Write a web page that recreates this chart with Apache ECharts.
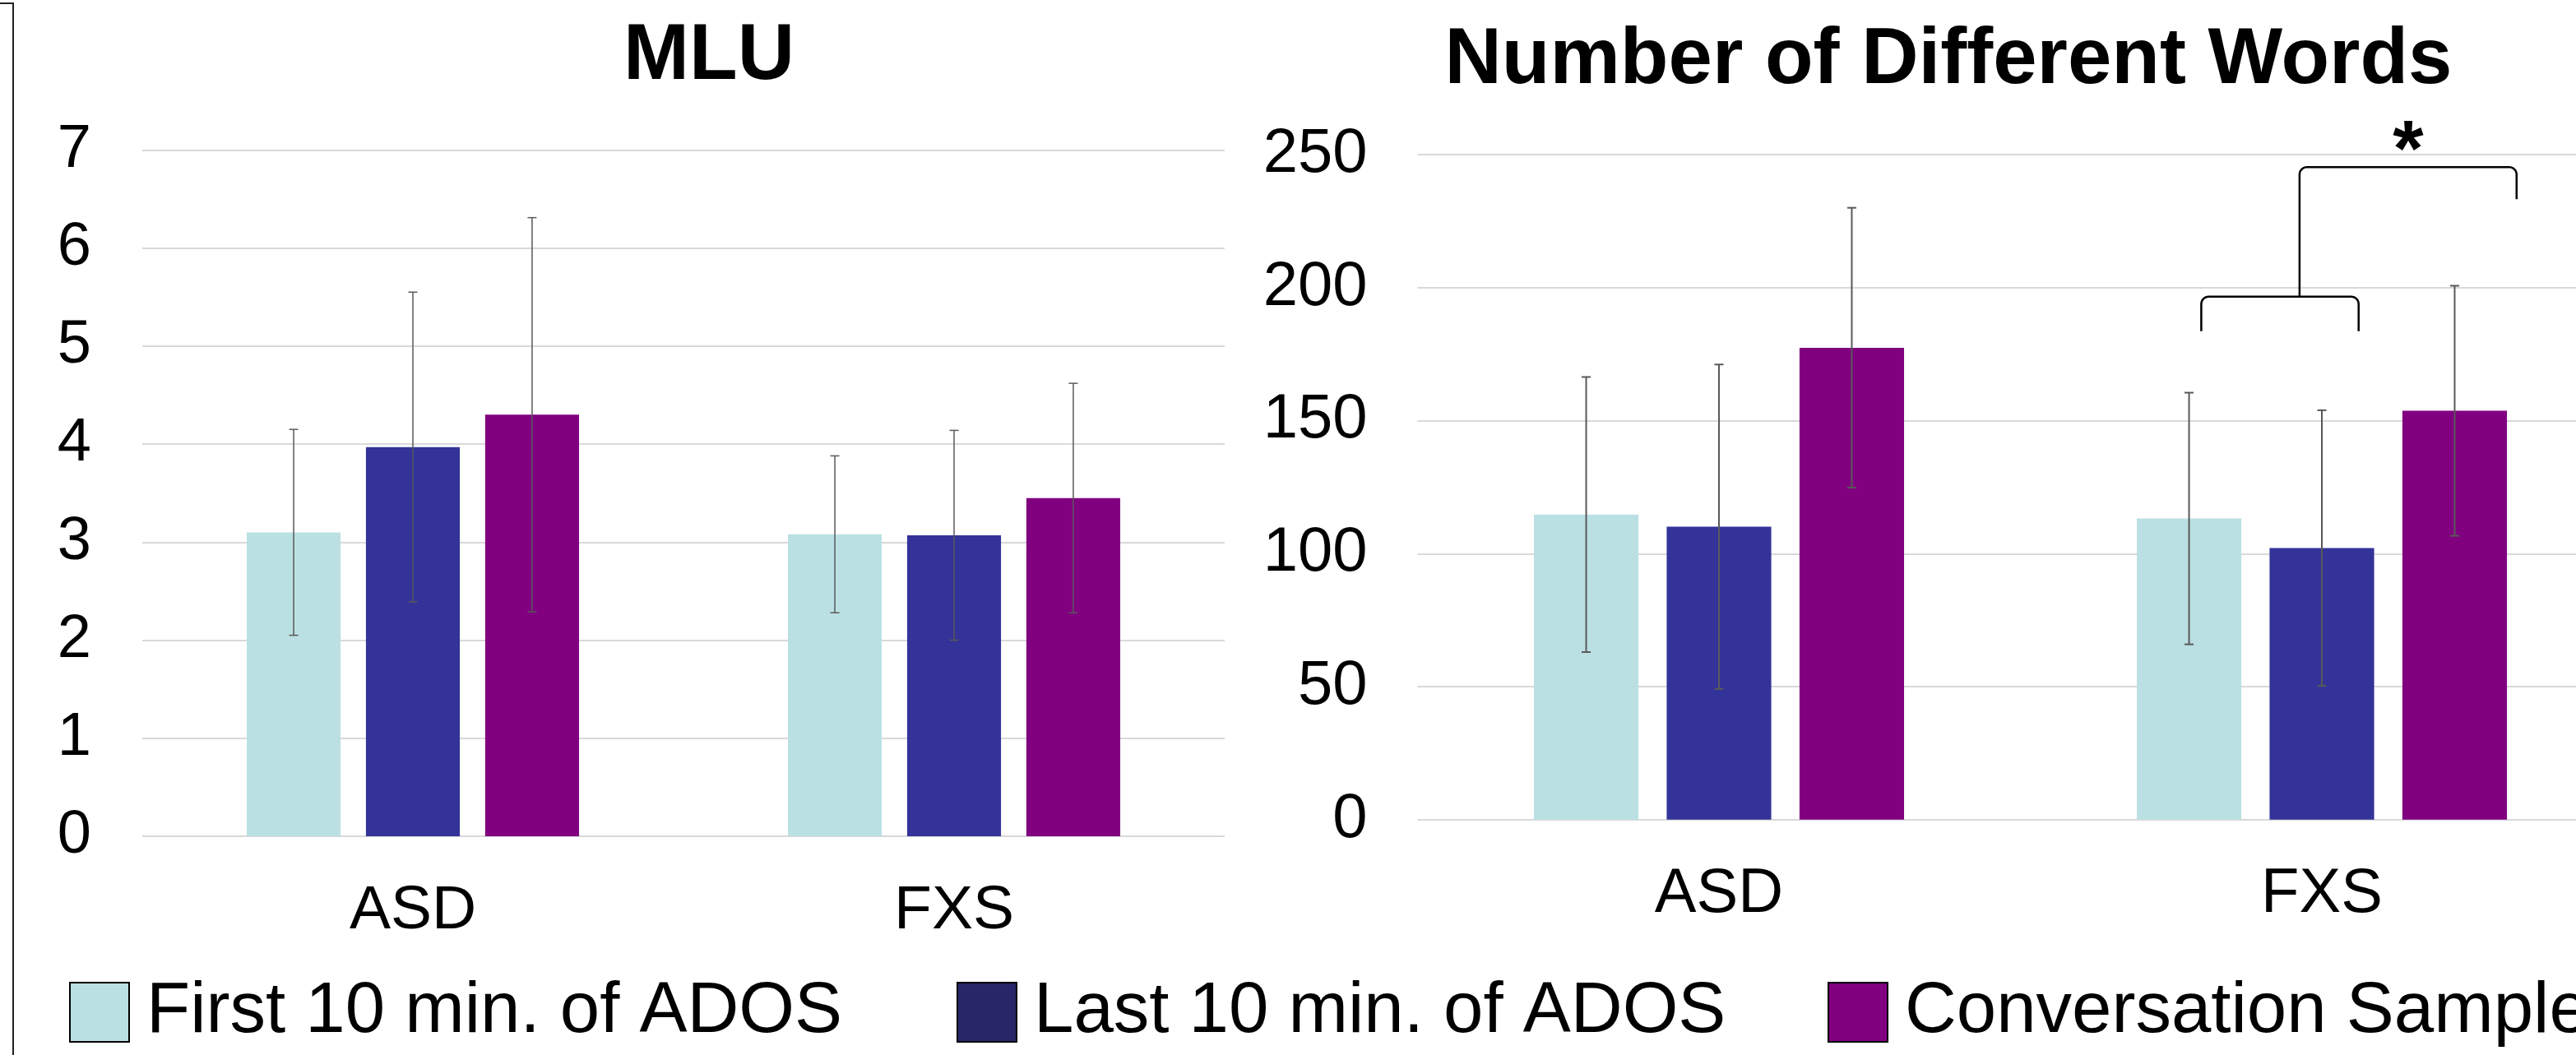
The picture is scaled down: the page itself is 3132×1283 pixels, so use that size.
<!DOCTYPE html>
<html>
<head>
<meta charset="utf-8">
<script src="https://cdn.jsdelivr.net/npm/echarts@6/dist/echarts.min.js"></script>
<style>html,body{margin:0;padding:0;background:#fff}#c{width:3132px;height:1283px}</style>
</head>
<body>
<div id="c"></div>
<script>
// ---- data ----
const categories = ['ASD', 'FXS'];
const seriesNames = ['First 10 min. of ADOS', 'Last 10 min. of ADOS', 'Conversation Sample'];
const chartTitles = ['MLU', 'Number of Different Words'];

const mluFirst = [3.10, 3.08];
const mluLast = [3.97, 3.07];
const mluConv = [4.30, 3.45];
const mluFirstSD = [1.05, 0.80];
const mluLastSD = [1.58, 1.07];
const mluConvSD = [2.01, 1.17];

const ndwFirst = [114.7, 113.2];
const ndwLast = [110.1, 102.1];
const ndwConv = [177.4, 153.7];
const ndwFirstSD = [51.7, 47.3];
const ndwLastSD = [61.0, 51.8];
const ndwConvSD = [52.6, 47.0];

const mluAxis = { min: 0, max: 7, interval: 1 };
const ndwAxis = { min: 0, max: 250, interval: 50 };

// significance annotation (FXS: first+last vs conversation)
const sigBracket = { category: 1, lowerTop: 196.6, lowerLeg: 183.6, lowerFrom: -0.2, lowerTo: 0.061,
  stem: -0.037, upperTop: 245.3, upperLeg: 233.2, upperTo: 0.323, star: 250.3, starX: 0.143, label: '*' };

// ---- styles ----
const colors = ['#BBE0E3', '#333399', '#800080'];
const legendColors = ['#BBE0E3', '#262669', '#800080'];
const FONT = 'Liberation Sans, Arial, sans-serif';
const BAR_GAP = 0.27, CAT_GAP = 0.386;

function errSeries(means, sds, k, axisIdx, lw) {
  return {
    type: 'custom', xAxisIndex: axisIdx, yAxisIndex: axisIdx, clip: false, silent: true, z: 5,
    data: means.map((m, i) => [i, m - sds[i], m + sds[i]]),
    encode: { x: 0, y: [1, 2] },
    renderItem: function (params, api) {
      const ci = api.value(0);
      const lo = api.coord([ci, api.value(1)]);
      const hi = api.coord([ci, api.value(2)]);
      const band = api.size([1, 0])[0];
      const w = band * (1 - CAT_GAP) / (3 + 2 * BAR_GAP);
      const x = lo[0] + w * (1 + BAR_GAP) * (k - 1);
      const cap = 5.5;
      const st = { stroke: '#595959', lineWidth: lw };
      return { type: 'group', children: [
        { type: 'line', shape: { x1: x, y1: lo[1], x2: x, y2: hi[1] }, style: st },
        { type: 'line', shape: { x1: x - cap, y1: lo[1], x2: x + cap, y2: lo[1] }, style: st },
        { type: 'line', shape: { x1: x - cap, y1: hi[1], x2: x + cap, y2: hi[1] }, style: st }
      ] };
    }
  };
}

function arc(cx, cy, r, a0, a1) {
  const pts = [];
  for (let i = 0; i <= 8; i++) {
    const a = a0 + (a1 - a0) * i / 8;
    pts.push([cx + r * Math.cos(a), cy + r * Math.sin(a)]);
  }
  return pts;
}

const bracketSeries = {
  type: 'custom', xAxisIndex: 1, yAxisIndex: 1, clip: false, silent: true, z: 6,
  data: [[sigBracket.category, sigBracket.lowerTop]],
  renderItem: function (params, api) {
    const b = sigBracket;
    const c = api.coord([b.category, 0])[0];
    const band = api.size([1, 0])[0];
    const Y = v => api.coord([b.category, v])[1];
    const r = 9;
    const xL = c + b.lowerFrom * band, xR = c + b.lowerTo * band;
    const xJ = c + b.stem * band, xU = c + b.upperTo * band;
    const yLT = Y(b.lowerTop), yLL = Y(b.lowerLeg), yUT = Y(b.upperTop), yUL = Y(b.upperLeg);
    const lower = [[xL, yLL]].concat(arc(xL + r, yLT + r, r, Math.PI, 1.5 * Math.PI),
      arc(xR - r, yLT + r, r, 1.5 * Math.PI, 2 * Math.PI), [[xR, yLL]]);
    const upper = [[xJ, yLT]].concat(arc(xJ + r, yUT + r, r, Math.PI, 1.5 * Math.PI),
      arc(xU - r, yUT + r, r, 1.5 * Math.PI, 2 * Math.PI), [[xU, yUL]]);
    const st = { stroke: '#000', lineWidth: 2.5, fill: null };
    return { type: 'group', children: [
      { type: 'polyline', shape: { points: lower }, style: st },
      { type: 'polyline', shape: { points: upper }, style: st },
      { type: 'text', style: { x: c + b.starX * band, y: Y(b.star), text: b.label, fill: '#000',
        font: 'bold 96px ' + FONT, align: 'center', verticalAlign: 'middle' } }
    ] };
  }
};

function bar(name, data, k, axisIdx) {
  return { name: name, type: 'bar', xAxisIndex: axisIdx, yAxisIndex: axisIdx, data: data,
    barGap: (BAR_GAP * 100) + '%', barCategoryGap: (CAT_GAP * 100) + '%',
    itemStyle: { color: colors[k] } };
}

function legend(k, left) {
  return {
    left: left, top: 1187.5, padding: 0, icon: 'rect', itemWidth: 72, itemHeight: 72,
    data: [{ name: seriesNames[k], itemStyle: { color: legendColors[k], borderColor: '#000', borderWidth: 2 } }],
    textStyle: { fontSize: 87, fontFamily: FONT, color: '#000', padding: [0, 0, 16, 16] },
    selectedMode: false
  };
}

const yLabel = (size, margin) => ({ fontSize: size, color: '#000', fontFamily: FONT, margin: margin });
const split = { show: true, lineStyle: { color: '#d9d9d9', width: 2 } };

const option = {
  animation: false,
  backgroundColor: '#fff',
  title: [
    { text: chartTitles[0], left: 862, top: 22, textAlign: 'center', padding: 0,
      textStyle: { fontSize: 96, fontWeight: 'bold', fontFamily: FONT, color: '#000' } },
    { text: chartTitles[1], left: 2369, top: 27, textAlign: 'center', padding: 0,
      textStyle: { fontSize: 96, fontWeight: 'bold', fontFamily: FONT, color: '#000' } }
  ],
  legend: [legend(0, 84), legend(1, 1163), legend(2, 2222)],
  grid: [
    { left: 173, width: 1316, top: 182.4, height: 834.6, outerBoundsMode: 'none' },
    { left: 1723.5, width: 1466, top: 188, height: 808.8, outerBoundsMode: 'none' }
  ],
  xAxis: [
    { gridIndex: 0, type: 'category', data: categories, axisTick: { show: false }, axisLine: { show: false },
      axisLabel: { fontSize: 75, color: '#000', fontFamily: FONT, margin: 54 } },
    { gridIndex: 1, type: 'category', data: categories, axisTick: { show: false }, axisLine: { show: false },
      axisLabel: { fontSize: 76, color: '#000', fontFamily: FONT, margin: 53 } }
  ],
  yAxis: [
    { gridIndex: 0, type: 'value', min: mluAxis.min, max: mluAxis.max, interval: mluAxis.interval,
      axisLine: { show: false }, axisTick: { show: false }, axisLabel: yLabel(74, 62), splitLine: split },
    { gridIndex: 1, type: 'value', min: ndwAxis.min, max: ndwAxis.max, interval: ndwAxis.interval,
      axisLine: { show: false }, axisTick: { show: false }, axisLabel: yLabel(76, 61), splitLine: split }
  ],
  graphic: [
    { type: 'polyline', shape: { points: [[0, 4], [16, 4], [16, 1283]] }, style: { stroke: '#222', lineWidth: 2, fill: null } }
  ],
  series: [
    bar(seriesNames[0], mluFirst, 0, 0), bar(seriesNames[1], mluLast, 1, 0), bar(seriesNames[2], mluConv, 2, 0),
    bar(seriesNames[0], ndwFirst, 0, 1), bar(seriesNames[1], ndwLast, 1, 1), bar(seriesNames[2], ndwConv, 2, 1),
    errSeries(mluFirst, mluFirstSD, 0, 0, 1.5), errSeries(mluLast, mluLastSD, 1, 0, 1.5), errSeries(mluConv, mluConvSD, 2, 0, 1.5),
    errSeries(ndwFirst, ndwFirstSD, 0, 1, 2), errSeries(ndwLast, ndwLastSD, 1, 1, 2), errSeries(ndwConv, ndwConvSD, 2, 1, 2),
    bracketSeries
  ]
};

const chart = echarts.init(document.getElementById('c'), null, { renderer: 'canvas' });
chart.setOption(option);
</script>
</body>
</html>
